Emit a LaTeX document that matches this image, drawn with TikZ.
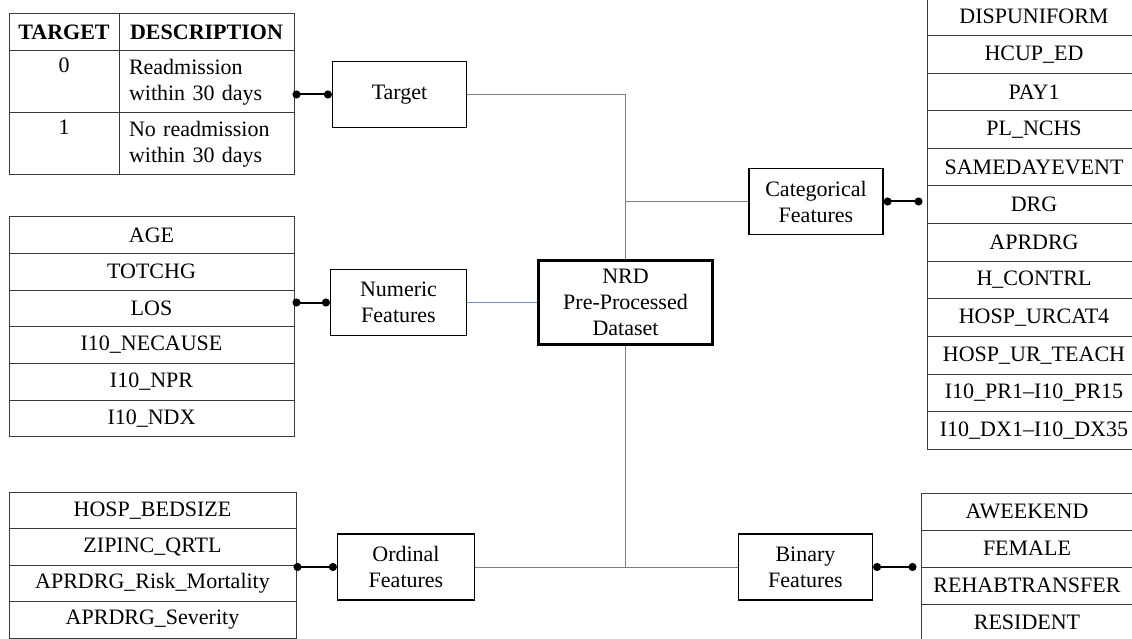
\documentclass[tikz,border=0pt]{standalone}
\usepackage{fontspec}
\setmainfont{Liberation Serif}
\usetikzlibrary{arrows.meta,positioning}
\definecolor{tabline}{HTML}{3A3A3A}
\definecolor{wire}{HTML}{808080}
\definecolor{bluewire}{HTML}{7393CF}
\newcommand\diagfont{\fontsize{22}{26}\selectfont}
\begin{document}
\begin{tikzpicture}[x=1pt, y=-1pt,
  box/.style={draw=black, fill=white, line width=1.2pt, align=center, inner sep=0pt, font=\diagfont},
  mainbox/.style={box, line width=3pt, minimum width=174pt, minimum height=84pt},
  featbox/.style={box, minimum width=134pt, minimum height=66pt},
  cell/.style={draw=tabline, line width=1pt, inner sep=0pt, font=\diagfont, align=center},
  headcell/.style={cell, minimum height=37pt, font=\diagfont\bfseries},
  desccell/.style={cell, minimum height=62pt, text width=155pt, inner xsep=10pt, align=left},
  wirelink/.style={draw=wire, line width=1pt},
  dotlink/.style={line width=2pt, {Circle[length=8pt]}-{Circle[length=8pt]}}]
  \useasboundingbox (0,0) rectangle (1132,639);
  % target table
  \node[headcell, minimum width=110pt] (th-1) at (64,32.5) {TARGET};
  \node[headcell, minimum width=175pt] (th-2) at (206.5,32.5) {DESCRIPTION};
  \node[cell, minimum width=110pt, minimum height=62pt] (tv-1) at (64,82) {0\\\strut};
  \node[desccell] (td-1) at (206.5,82) {Readmission\\within 30 days};
  \node[cell, minimum width=110pt, minimum height=62pt] (tv-2) at (64,144) {1\\\strut};
  \node[desccell] (td-2) at (206.5,144) {No readmission\\within 30 days};
  % feature tables
  \foreach \lbl [count=\i] in {AGE,TOTCHG,LOS,I10\_NECAUSE,I10\_NPR,I10\_NDX}
    \node[cell, minimum width=285pt, minimum height=36.67pt] (num-\i) at (151.5,198.33+36.67*\i) {\lbl};
  \foreach \lbl [count=\i] in {HOSP\_BEDSIZE,ZIPINC\_QRTL,APRDRG\_Risk\_Mortality,APRDRG\_Severity}
    \node[cell, minimum width=287pt, minimum height=36.5pt] (ord-\i) at (152.5,473.75+36.5*\i) {\lbl};
  \foreach \lbl [count=\i] in {DISPUNIFORM,HCUP\_ED,PAY1,PL\_NCHS,SAMEDAYEVENT,DRG,APRDRG,H\_CONTRL,HOSP\_URCAT4,HOSP\_UR\_TEACH,I10\_PR1--I10\_PR15,I10\_DX1--I10\_DX35}
    \node[cell, minimum width=214pt, minimum height=37.6pt] (catl-\i) at (1034,-20.8+37.6*\i) {\lbl};
  \foreach \lbl [count=\i] in {AWEEKEND,FEMALE,REHABTRANSFER,RESIDENT}
    \node[cell, minimum width=212pt, minimum height=37pt] (bin-\i) at (1027,474.5+37*\i) {\lbl};
  % boxes
  \node[mainbox] (nrd) at (625.5,302.5) {NRD\\Pre-Processed\\Dataset};
  \node[featbox] (target) at (399.5,94.5) {Target};
  \node[featbox, minimum width=136pt] (numeric) at (398.5,302.5) {Numeric\\Features};
  \node[featbox, minimum width=137pt] (ordinal) at (406,567) {Ordinal\\Features};
  \node[featbox] (cat) at (816,201.5) {Categorical\\Features};
  \node[featbox] (binary) at (805.5,567) {Binary\\Features};
  % wires
  \draw[wirelink] (target.east) -| (nrd.north);
  \draw[wirelink] (cat.west) -- (cat.west -| nrd.north);
  \draw[draw=bluewire, line width=1pt] (numeric.east) -- (nrd.west);
  \draw[wirelink] (nrd.south) -- (nrd.south |- binary.west);
  \draw[wirelink] (ordinal.east) -- (binary.west);
  % dotted links
  \draw[dotlink, shorten <=-2pt] (td-1.east |- target.west) -- (target.west);
  \draw[dotlink, shorten <=-2pt] (num-3.east |- numeric.west) -- (numeric.west);
  \draw[dotlink, shorten <=-3pt] (ord-3.east |- ordinal.west) -- (ordinal.west);
  \draw[dotlink, shorten >=4pt] (cat.east) -- (cat.east -| catl-6.west);
  \draw[dotlink, shorten >=4pt] (binary.east) -- (binary.east -| bin-3.west);
\end{tikzpicture}
\end{document}
